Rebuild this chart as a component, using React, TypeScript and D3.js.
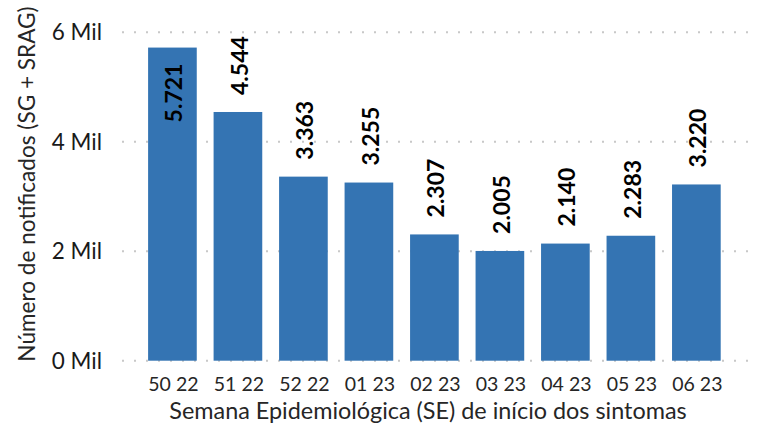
import React from "react";
import * as d3 from "d3";

const categories = ["50 22", "51 22", "52 22", "01 23", "02 23", "03 23", "04 23", "05 23", "06 23"];
const values = [5721, 4544, 3363, 3255, 2307, 2005, 2140, 2283, 3220];
const yTicks = [0, 2000, 4000, 6000];
const yTickLabels = ["0 Mil", "2 Mil", "4 Mil", "6 Mil"];

const W = 758;
const H = 423;
const FONT = "Lato, 'Open Sans', sans-serif";

export default function App() {
  const y = d3.scaleLinear().domain([0, 6000]).range([360.7, 32.3]);
  const x = d3
    .scaleBand<string>()
    .domain(categories)
    .range([135, 733.8])
    .paddingInner(0.257)
    .paddingOuter(0.2);
  const fmt = (v: number) => d3.format(",")(v).replace(/,/g, ".");
  return (
    <svg width={W} height={H} style={{ position: "absolute", left: 0, top: 0, background: "#fff" }}>
      {yTicks.map((t, i) => (
        <g key={t}>
          <line
            x1={122}
            x2={750}
            y1={y(t)}
            y2={y(t)}
            stroke="#c8c8c8"
            strokeWidth={2}
            strokeDasharray="2 10"
          />
          <text
            x={102}
            y={y(t)}
            dy="0.36em"
            textAnchor="end"
            fontFamily={FONT}
            fontSize={22.5}
            fill="#1a1a1a"
          >
            {yTickLabels[i]}
          </text>
        </g>
      ))}
      {categories.map((c, i) => {
        const bx = x(c)!;
        const bw = x.bandwidth();
        const top = y(values[i]);
        const cx = bx + bw / 2;
        const inside = top < 80;
        const ly = inside ? top + 16 : top - 17;
        return (
          <g key={c}>
            <rect x={bx} y={top} width={bw} height={y(0) - top} fill="#3474b3" />
            <text
              transform={`translate(${cx + 10},${ly}) rotate(-90)`}
              textAnchor={inside ? "end" : "start"}
              fontFamily={FONT}
              fontWeight={700}
              fontSize={23}
              fill="#000"
            >
              {fmt(values[i])}
            </text>
            <text
              x={cx + 1}
              y={391}
              textAnchor="middle"
              fontFamily={FONT}
              fontSize={19.5}
              fill="#262626"
            >
              {c}
            </text>
          </g>
        );
      })}
      <text
        x={428}
        y={419}
        textAnchor="middle"
        fontFamily={FONT}
        fontSize={23.4}
        fill="#262626"
      >
        Semana Epidemiológica (SE) de início dos sintomas
      </text>
      <text
        transform={`translate(35,184) rotate(-90)`}
        textAnchor="middle"
        fontFamily={FONT}
        fontSize={22.6}
        fill="#262626"
      >
        Número de notificados (SG + SRAG)
      </text>
    </svg>
  );
}
